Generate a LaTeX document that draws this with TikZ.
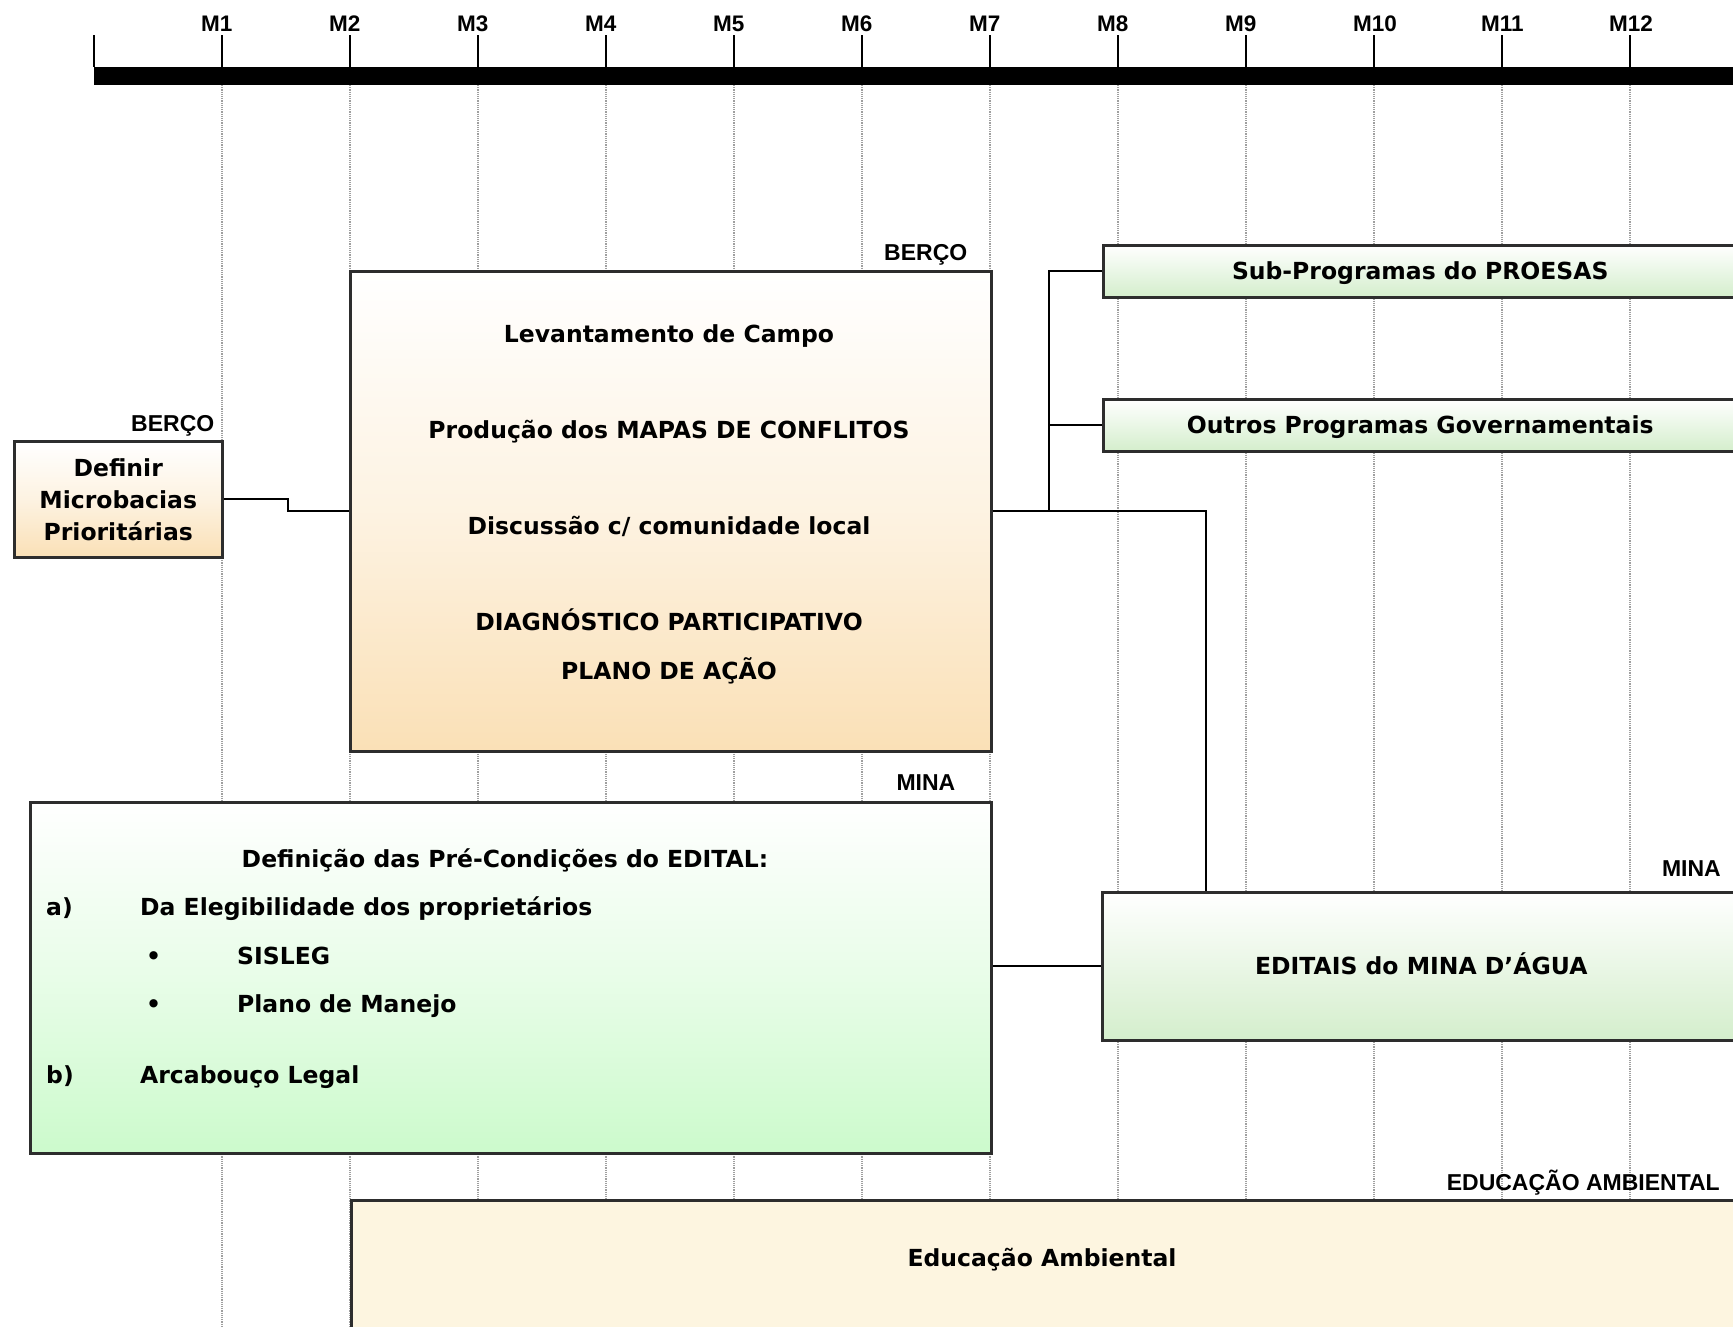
\documentclass[tikz,border=0pt]{standalone}
\usepackage{fontspec}
\setmainfont{DejaVu Sans}
\newfontfamily\tagfont{Liberation Sans}
\usetikzlibrary{positioning}

\definecolor{bercoFill}{RGB}{250,224,182}
\definecolor{minaFill}{RGB}{204,250,204}
\definecolor{progFill}{RGB}{212,238,204}
\definecolor{eduFill}{RGB}{253,245,224}
\definecolor{boxLine}{RGB}{45,45,45}

\tikzstyle{boxText} = [font=\fontsize{23.5}{32}\selectfont\bfseries, inner sep=0pt]
\tikzstyle{tagLabel} = [font=\tagfont\fontsize{23}{26}\selectfont\bfseries, inner sep=0pt, anchor=base east]
\tikzstyle{monthLabel} = [font=\tagfont\fontsize{22.5}{24}\selectfont\bfseries, inner sep=0pt, anchor=base west]
\tikzstyle{bercoBox} = [draw=boxLine, line width=2.5pt, rectangle, anchor=north west,
   top color=white, bottom color=bercoFill, middle color=bercoFill!40,
   boxText, align=center]
\tikzstyle{minaBox} = [draw=boxLine, line width=2.5pt, rectangle, anchor=north west,
   top color=white, bottom color=minaFill, middle color=minaFill!45]
\tikzstyle{progBox} = [draw=boxLine, line width=2.5pt, rectangle, anchor=north west,
   top color=white, bottom color=progFill, middle color=progFill!50, boxText,
   text height=17pt, text depth=0pt]
\tikzstyle{eduBox} = [draw=boxLine, line width=2.5pt, rectangle, anchor=north west, fill=eduFill]
\tikzstyle{connector} = [line width=2pt, black]
\tikzstyle{gridLine} = [densely dotted, gray!75, line width=1.2pt]

\begin{document}
\begin{tikzpicture}[x=1pt, y=-1pt]
  \useasboundingbox (0,0) rectangle (1733,1326);
  \fill[white] (0,0) rectangle (1733,1326);
  \clip (0,0) rectangle (1733,1326);

  % month grid and time bar
  \foreach \m in {1,...,12}
    \draw[gridLine] (94+128*\m,85) -- (94+128*\m,1326);
  \fill[black] (94,67) rectangle (1740,85);
  \foreach \m in {0,...,12}
    \draw[line width=2pt] (94+128*\m,35) -- (94+128*\m,67);
  \foreach \m in {1,...,12}
    \node[monthLabel] (m\m) at (73+128*\m,31) {M\m};

  % BERCO
  \node[bercoBox, minimum width=208, minimum height=116] (definir) at (13,440)
    {Definir\\Microbacias\\Prioritárias};
  \node[tagLabel] (tagDefinir) at ([xshift=-9pt,yshift=9pt]definir.north east) {BERÇO};
  \node[bercoBox, minimum width=641, minimum height=480] (berco) at (349,270) {};
  \node[tagLabel] (tagBerco) at ([xshift=-25pt,yshift=9.5pt]berco.north east) {BERÇO};
  \node[boxText, anchor=base] (levant) at (669,342.5) {Levantamento de Campo};
  \node[boxText, anchor=base] (mapas) at (669,438.5) {Produção dos MAPAS DE CONFLITOS};
  \node[boxText, anchor=base] (discussao) at (669,534.5) {Discussão c/ comunidade local};
  \node[boxText, anchor=base] (diagn) at (669,630.5) {DIAGNÓSTICO PARTICIPATIVO};
  \node[boxText, anchor=base] (plano) at (669,679.5) {PLANO DE AÇÃO};

  % programas
  \node[progBox, minimum width=634, minimum height=52] (sub) at (1102,244) {Sub-Programas do PROESAS};
  \node[progBox, minimum width=634, minimum height=52] (outros) at (1102,398) {Outros Programas Governamentais};

  % MINA
  \node[minaBox, minimum width=961, minimum height=351] (mina) at (29,801) {};
  \node[tagLabel] (tagMina) at ([xshift=-37pt,yshift=11pt]mina.north east) {MINA};
  \node[boxText, anchor=base] (precond) at (505,867) {Definição das Pré-Condições do EDITAL:};
  \node[boxText, anchor=base west] (itemA) at (46,915) {a)};
  \node[boxText, anchor=base west] (eleg) at (140,915) {Da Elegibilidade dos proprietários};
  \node[boxText, anchor=base west] (dotA) at (146,964) {•};
  \node[boxText, anchor=base west] (sisleg) at (237,964) {SISLEG};
  \node[boxText, anchor=base west] (dotB) at (146,1012) {•};
  \node[boxText, anchor=base west] (manejo) at (237,1012) {Plano de Manejo};
  \node[boxText, anchor=base west] (itemB) at (46,1083) {b)};
  \node[boxText, anchor=base west] (arcab) at (140,1083) {Arcabouço Legal};

  \node[progBox, minimum width=638, minimum height=148] (editais) at (1101,891) {EDITAIS do MINA D’ÁGUA};
  \node[tagLabel] (tagEditais) at (1721,876) {MINA};

  % educacao
  \node[eduBox, minimum width=1400, minimum height=200] (edu) at (350,1199) {};
  \node[tagLabel] (tagEdu) at (1720,1190) {EDUCAÇÃO AMBIENTAL};
  \node[boxText, anchor=base] (eduText) at (1042,1266.5) {Educação Ambiental};

  % links
  \draw[connector] (definir.east) -- ++(64,0) |- (berco.west);
  \draw[connector] (berco.east) -- ++(56,0) |- (sub.west);
  \draw[connector] (berco.east) ++(56,0) |- (outros.west);
  \draw[connector] (berco.east) -| ([xshift=105pt]editais.north west);
  \draw[connector] (mina.east |- editais.west) -- (editais.west);
\end{tikzpicture}
\end{document}
